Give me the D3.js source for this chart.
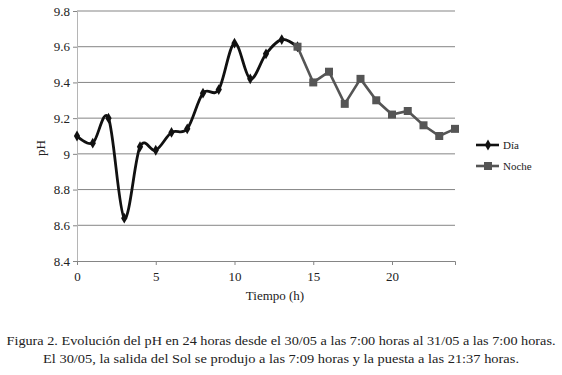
<!DOCTYPE html>
<html>
<head>
<meta charset="utf-8">
<script src="https://cdn.jsdelivr.net/npm/d3@7"></script>
<style>
  body { margin: 0; background: #fff; }
  text { font-family: "Liberation Serif", "Times New Roman", serif; fill: #222; }
</style>
</head>
<body>
<svg id="canvas"></svg>
<script>
// hours and pH readings
let diaHours = [0, 1, 2, 3, 4, 5, 6, 7, 8, 9, 10, 11, 12, 13, 14];
let diaValues = [9.10, 9.06, 9.20, 8.64, 9.04, 9.02, 9.12, 9.14, 9.34, 9.36, 9.62, 9.42, 9.56, 9.64, 9.60];
let nocheHours = [14, 15, 16, 17, 18, 19, 20, 21, 22, 23, 24];
let nocheValues = [9.60, 9.40, 9.46, 9.28, 9.42, 9.30, 9.22, 9.24, 9.16, 9.10, 9.14];
let xTicks = [0, 5, 10, 15, 20];
let yTicks = [8.4, 8.6, 8.8, 9.0, 9.2, 9.4, 9.6, 9.8];
let seriesNames = ["Día", "Noche"];
let captionLines = [
  "Figura 2. Evolución del pH en 24 horas desde el 30/05 a las 7:00 horas al 31/05 a las 7:00 horas.",
  "El 30/05, la salida del Sol se produjo a las 7:09 horas y la puesta a las 21:37 horas."
];

let width = 562;
let height = 375;

let canvas = d3.select("#canvas")
  .attr("width", width)
  .attr("height", height);

canvas.append("rect").attr("width", width).attr("height", height).attr("fill", "#fff");

let xScale = d3.scaleLinear().domain([0, 24]).range([77, 455]);
let yScale = d3.scaleLinear().domain([8.4, 9.8]).range([261, 11]);

let dia = diaHours.map((h, i) => ({ x: h, y: diaValues[i] }));
let noche = nocheHours.map((h, i) => ({ x: h, y: nocheValues[i] }));

// gridlines
canvas.append("g")
  .selectAll("line")
  .data(yTicks.slice(1))
  .enter()
  .append("line")
  .attr("x1", xScale(0))
  .attr("x2", xScale(24))
  .attr("y1", d => yScale(d))
  .attr("y2", d => yScale(d))
  .attr("stroke", "#858585")
  .attr("stroke-width", 1);

// axes
let yAxis = d3.axisLeft(yScale)
  .tickValues(yTicks)
  .tickSize(4)
  .tickPadding(3)
  .tickFormat(d => d3.format("~g")(d));

let gy = canvas.append("g")
  .attr("transform", "translate(" + xScale(0) + ",0)")
  .call(yAxis);
gy.select(".domain").attr("stroke", "#b5b5b5");
gy.selectAll(".tick line").attr("stroke", "#858585");
gy.selectAll("text").attr("font-size", 13).attr("fill", "#222");

let xAxis = d3.axisBottom(xScale)
  .tickValues(xTicks)
  .tickSize(4)
  .tickPadding(7)
  .tickFormat(d3.format("d"));

let gx = canvas.append("g")
  .attr("transform", "translate(0," + yScale(8.4) + ")")
  .call(xAxis);
gx.select(".domain").attr("stroke", "#858585");
gx.selectAll(".tick line").attr("stroke", "#858585");
gx.selectAll("text").attr("font-size", 13).attr("fill", "#222");

// axis titles
canvas.append("text")
  .attr("x", 275)
  .attr("y", 300)
  .attr("text-anchor", "middle")
  .attr("font-size", 13)
  .text("Tiempo (h)");

canvas.append("text")
  .attr("transform", "translate(45,148) rotate(-90)")
  .attr("text-anchor", "middle")
  .attr("font-size", 13)
  .text("pH");

// series
let smoothLine = d3.line()
  .x(d => xScale(d.x))
  .y(d => yScale(d.y))
  .curve(d3.curveCardinal.tension(0));

let straightLine = d3.line()
  .x(d => xScale(d.x))
  .y(d => yScale(d.y));

canvas.append("path")
  .datum(dia)
  .attr("d", smoothLine)
  .attr("fill", "none")
  .attr("stroke", "#111")
  .attr("stroke-width", 2.8);

canvas.append("path")
  .datum(noche)
  .attr("d", straightLine)
  .attr("fill", "none")
  .attr("stroke", "#555")
  .attr("stroke-width", 2.6);

let diamond = d3.symbol().type(d3.symbolDiamond).size(34);

canvas.append("g")
  .selectAll("path")
  .data(dia)
  .enter()
  .append("path")
  .attr("d", diamond)
  .attr("transform", d => "translate(" + xScale(d.x) + "," + yScale(d.y) + ")")
  .attr("fill", "#111");

canvas.append("g")
  .selectAll("rect")
  .data(noche)
  .enter()
  .append("rect")
  .attr("x", d => xScale(d.x) - 4)
  .attr("y", d => yScale(d.y) - 4)
  .attr("width", 8)
  .attr("height", 8)
  .attr("fill", "#555");

// legend
let legend = canvas.append("g");
let legendY = [145, 166];
let legendColor = ["#111", "#555"];

seriesNames.forEach((name, i) => {
  legend.append("line")
    .attr("x1", 476).attr("x2", 499)
    .attr("y1", legendY[i]).attr("y2", legendY[i])
    .attr("stroke", legendColor[i])
    .attr("stroke-width", 2.6);
  if (i == 0) {
    legend.append("path")
      .attr("d", diamond)
      .attr("transform", "translate(488," + legendY[i] + ")")
      .attr("fill", legendColor[i]);
  } else {
    legend.append("rect")
      .attr("x", 484).attr("y", legendY[i] - 4)
      .attr("width", 8).attr("height", 8)
      .attr("fill", legendColor[i]);
  }
  legend.append("text")
    .attr("x", 503)
    .attr("y", legendY[i] + 4)
    .attr("font-size", 11)
    .text(name);
});

// caption
canvas.append("g")
  .selectAll("text")
  .data(captionLines)
  .enter()
  .append("text")
  .attr("x", 281)
  .attr("y", (d, i) => 345 + i * 18)
  .attr("text-anchor", "middle")
  .attr("font-size", 12.5)
  .attr("textLength", (d, i) => i == 0 ? 549 : 476)
  .attr("lengthAdjust", "spacingAndGlyphs")
  .text(d => d);
</script>
</body>
</html>
